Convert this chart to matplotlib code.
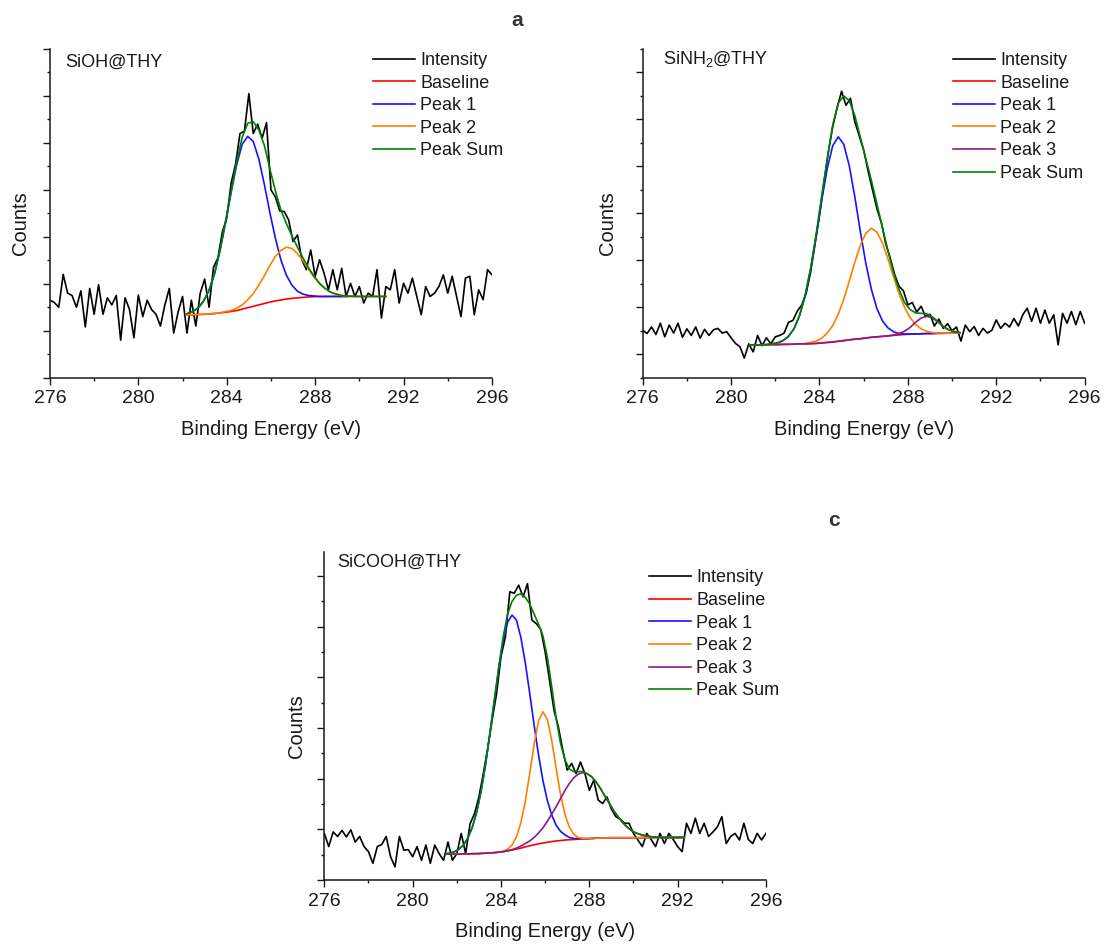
import numpy as np
import matplotlib
matplotlib.use('Agg')
import matplotlib.pyplot as plt
from matplotlib.ticker import MultipleLocator, FixedLocator

plt.rcParams['font.family'] = ['Liberation Sans', 'DejaVu Sans']

# binding energy grid of the measured spectra (0.2 eV step)
energy = np.linspace(276, 296, 101)

# ---- SiOH@THY ----
sioh_counts = [1.65, 1.60, 1.50, 2.20, 1.80, 1.75, 1.50, 1.85, 1.08, 1.90,
               1.35, 1.98, 1.35, 1.70, 1.55, 1.75, 0.80, 1.70, 1.45, 0.85,
               1.76, 1.30, 1.65, 1.45, 1.35, 1.10, 1.55, 1.90, 0.95, 1.40,
               1.73, 0.95, 1.65, 1.10, 1.80, 2.10, 1.50, 2.35, 2.55, 3.10,
               3.40, 4.15, 4.55, 5.20, 5.25, 6.05, 5.20, 5.40, 5.10, 5.43,
               4.00, 3.85, 3.55, 3.54, 3.36, 2.90, 3.04, 2.51, 2.30, 2.72,
               2.16, 2.51, 2.23, 1.87, 2.30, 1.87, 2.33, 1.73, 2.01, 1.73,
               1.94, 1.59, 1.80, 1.73, 2.30, 1.27, 1.94, 1.87, 2.30, 1.59,
               2.01, 1.80, 2.12, 1.73, 1.34, 1.94, 1.73, 1.80, 1.94, 2.19,
               1.80, 2.16, 1.73, 1.30, 2.12, 2.16, 1.34, 1.87, 1.66, 2.30,
               2.19]
sioh_fit_x = 282.2 + 0.25 * np.arange(37)
sioh_base = [1.34, 1.34, 1.345, 1.35, 1.355, 1.365, 1.38, 1.395, 1.41, 1.43,
             1.46, 1.49, 1.52, 1.55, 1.58, 1.61, 1.635, 1.655, 1.675, 1.69,
             1.70, 1.71, 1.72, 1.725, 1.728, 1.73, 1.73, 1.73, 1.73, 1.73,
             1.73, 1.73, 1.73, 1.73, 1.73, 1.73, 1.73]
sioh_peak1 = [1.36, 1.41, 1.48, 1.63, 1.86, 2.22, 2.71, 3.31, 3.95, 4.54,
              4.97, 5.14, 5.03, 4.66, 4.12, 3.52, 2.97, 2.51, 2.18, 1.97,
              1.84, 1.78, 1.75, 1.74, 1.73, 1.73, 1.73, 1.73, 1.73, 1.73]
sioh_peak2 = [1.34, 1.34, 1.345, 1.35, 1.36, 1.37, 1.38, 1.41, 1.43, 1.48,
              1.55, 1.66, 1.79, 1.97, 2.17, 2.39, 2.58, 2.71, 2.78, 2.75,
              2.64, 2.49, 2.31, 2.14, 2.00, 1.90, 1.82, 1.78, 1.75, 1.74]
sioh_sum = [1.36, 1.41, 1.48, 1.63, 1.86, 2.22, 2.74, 3.34, 3.98, 4.60,
            5.12, 5.42, 5.45, 5.28, 4.95, 4.45, 3.98, 3.57, 3.28, 3.02,
            2.78, 2.55, 2.34, 2.16, 2.01, 1.90, 1.82, 1.78, 1.75, 1.74,
            1.735, 1.73, 1.73, 1.73, 1.73, 1.73, 1.73]

# ---- SiNH2@THY ----
sinh2_counts = [1.01, 0.94, 1.08, 0.92, 1.16, 0.87, 1.12, 0.95, 1.16, 0.86,
                1.04, 0.90, 1.08, 0.84, 1.03, 0.90, 1.02, 1.05, 0.95, 0.98,
                0.85, 0.73, 0.66, 0.42, 0.72, 0.55, 0.90, 0.68, 0.85, 0.72,
                0.87, 0.90, 0.95, 1.18, 1.22, 1.42, 1.55, 1.80, 2.25, 2.85,
                3.45, 4.15, 4.80, 5.35, 5.75, 6.10, 5.80, 5.95, 5.45, 5.15,
                4.85, 4.40, 4.00, 3.60, 3.30, 2.85, 2.55, 2.20, 1.95, 1.85,
                1.55, 1.60, 1.40, 1.52, 1.30, 1.35, 1.10, 1.25, 1.05, 1.15,
                1.00, 1.08, 0.78, 1.12, 0.98, 1.09, 0.90, 1.05, 0.95, 1.01,
                1.23, 1.05, 1.16, 1.08, 1.26, 1.10, 1.34, 1.48, 1.20, 1.48,
                1.16, 1.44, 1.16, 1.34, 0.70, 1.37, 1.16, 1.41, 1.13, 1.41,
                1.16]
sinh2_fit_x = 280.85 + 0.25 * np.arange(39)
sinh2_base = [0.70, 0.70, 0.70, 0.70, 0.705, 0.705, 0.71, 0.71, 0.715, 0.72,
              0.72, 0.725, 0.73, 0.74, 0.75, 0.76, 0.775, 0.79, 0.805, 0.82,
              0.83, 0.845, 0.86, 0.87, 0.88, 0.89, 0.90, 0.91, 0.92, 0.925,
              0.93, 0.935, 0.94, 0.94, 0.945, 0.945, 0.95, 0.95, 0.95]
sinh2_peak1 = [0.70, 0.70, 0.70, 0.705, 0.72, 0.74, 0.79, 0.88, 1.04, 1.32,
               1.74, 2.31, 3.01, 3.77, 4.45, 4.94, 5.13, 4.97, 4.51, 3.85,
               3.11, 2.43, 1.88, 1.47, 1.21, 1.06, 0.98, 0.94, 0.93, 0.93,
               0.93, 0.935, 0.94, 0.94, 0.945, 0.945, 0.95, 0.95, 0.95]
sinh2_peak2 = [0.70, 0.70, 0.70, 0.70, 0.705, 0.705, 0.71, 0.71, 0.72, 0.72,
               0.73, 0.75, 0.78, 0.84, 0.95, 1.11, 1.35, 1.67, 2.06, 2.46,
               2.82, 3.08, 3.18, 3.10, 2.87, 2.53, 2.15, 1.79, 1.50, 1.28,
               1.13, 1.04, 0.99, 0.96, 0.95, 0.95, 0.95, 0.95, 0.95]
sinh2_peak3 = [0.70, 0.70, 0.70, 0.70, 0.705, 0.705, 0.71, 0.71, 0.715, 0.72,
               0.72, 0.725, 0.73, 0.74, 0.75, 0.76, 0.775, 0.79, 0.805, 0.82,
               0.83, 0.845, 0.86, 0.87, 0.88, 0.89, 0.91, 0.94, 0.99, 1.07,
               1.18, 1.27, 1.31, 1.27, 1.19, 1.09, 1.02, 0.98, 0.96]
sinh2_sum = [0.70, 0.70, 0.70, 0.705, 0.72, 0.74, 0.79, 0.88, 1.05, 1.33,
             1.75, 2.33, 3.06, 3.87, 4.65, 5.38, 5.85, 6.00, 5.90, 5.58,
             5.12, 4.66, 4.20, 3.70, 3.20, 2.70, 2.24, 1.88, 1.60, 1.45,
             1.38, 1.37, 1.36, 1.30, 1.20, 1.09, 1.02, 0.98, 0.96]

# ---- SiCOOH@THY ----
sicooh_counts = [0.92, 0.66, 0.95, 0.86, 0.98, 0.85, 0.99, 0.75, 0.86, 0.66,
                 0.56, 0.33, 0.66, 0.70, 0.86, 0.46, 0.26, 0.86, 0.59, 0.60,
                 0.46, 0.66, 0.39, 0.69, 0.33, 0.69, 0.52, 0.39, 0.75, 0.39,
                 0.52, 0.92, 0.52, 1.11, 1.31, 1.64, 2.10, 2.60, 3.16, 3.68,
                 4.41, 4.80, 5.69, 5.66, 5.82, 5.59, 5.85, 5.13, 5.06, 4.95,
                 4.50, 3.94, 3.35, 3.02, 2.56, 2.17, 2.30, 2.10, 2.33, 2.10,
                 1.77, 1.97, 1.58, 1.51, 1.64, 1.40, 1.25, 1.20, 1.12, 1.12,
                 0.92, 0.79, 0.66, 0.92, 0.80, 0.66, 0.92, 0.72, 0.92, 0.80,
                 0.66, 0.56, 1.12, 0.92, 1.22, 0.92, 1.12, 0.86, 0.95, 1.05,
                 1.25, 0.72, 0.86, 0.92, 0.79, 1.12, 0.80, 0.72, 0.92, 0.79,
                 0.92]
sicooh_fit_x = 281.5 + 0.2 * np.arange(55)
sicooh_base = [0.51, 0.51, 0.51, 0.51, 0.515, 0.515, 0.52, 0.52, 0.525, 0.53,
               0.535, 0.54, 0.55, 0.56, 0.575, 0.59, 0.61, 0.63, 0.655, 0.675,
               0.695, 0.715, 0.73, 0.745, 0.76, 0.77, 0.78, 0.79, 0.795, 0.80,
               0.805, 0.81, 0.815, 0.82, 0.825, 0.83, 0.83, 0.835, 0.835, 0.835,
               0.835, 0.835, 0.835, 0.835, 0.835, 0.84, 0.84, 0.84, 0.84, 0.84,
               0.84, 0.84, 0.84, 0.84, 0.84]
sicooh_peak1 = [0.52, 0.53, 0.56, 0.61, 0.69, 0.83, 1.04, 1.34, 1.76, 2.28,
                2.90, 3.55, 4.19, 4.72, 5.09, 5.23, 5.13, 4.79, 4.29, 3.69,
                3.06, 2.47, 1.96, 1.57, 1.28, 1.08, 0.96, 0.89, 0.84, 0.82,
                0.82, 0.82, 0.815, 0.82, 0.825, 0.83, 0.83, 0.835, 0.835, 0.835,
                0.835, 0.835, 0.835, 0.835, 0.835, 0.84, 0.84, 0.84, 0.84, 0.84,
                0.84, 0.84, 0.84, 0.84, 0.84]
sicooh_peak2 = [0.51, 0.51, 0.51, 0.51, 0.515, 0.515, 0.52, 0.52, 0.525, 0.53,
                0.535, 0.54, 0.55, 0.57, 0.61, 0.69, 0.85, 1.13, 1.55, 2.10,
                2.68, 3.14, 3.32, 3.17, 2.75, 2.20, 1.68, 1.29, 1.04, 0.90,
                0.84, 0.82, 0.82, 0.82, 0.825, 0.83, 0.83, 0.835, 0.835, 0.835,
                0.835, 0.835, 0.835, 0.835, 0.835, 0.84, 0.84, 0.84, 0.84, 0.84,
                0.84, 0.84, 0.84, 0.84, 0.84]
sicooh_peak3 = [0.51, 0.51, 0.51, 0.51, 0.515, 0.515, 0.52, 0.52, 0.525, 0.53,
                0.535, 0.54, 0.55, 0.56, 0.58, 0.60, 0.63, 0.67, 0.72, 0.77,
                0.84, 0.93, 1.03, 1.16, 1.30, 1.45, 1.61, 1.77, 1.91, 2.02,
                2.09, 2.12, 2.10, 2.04, 1.94, 1.81, 1.66, 1.52, 1.37, 1.25,
                1.14, 1.05, 0.98, 0.93, 0.90, 0.88, 0.86, 0.85, 0.85, 0.84,
                0.84, 0.84, 0.84, 0.84, 0.84]
sicooh_sum = [0.52, 0.53, 0.56, 0.61, 0.69, 0.83, 1.04, 1.34, 1.76, 2.28,
              2.90, 3.55, 4.20, 4.80, 5.25, 5.50, 5.62, 5.65, 5.58, 5.45,
              5.25, 5.05, 4.82, 4.40, 3.81, 3.19, 2.69, 2.37, 2.19, 2.14,
              2.14, 2.14, 2.10, 2.04, 1.94, 1.81, 1.66, 1.52, 1.37, 1.25,
              1.14, 1.05, 0.98, 0.93, 0.90, 0.88, 0.86, 0.85, 0.85, 0.84,
              0.84, 0.84, 0.84, 0.84, 0.84]

peak_colors = ['#1414ff', '#ff8000', '#8b1a8b']
txt_color = '#1a1a1a'


def draw_panel(fig, rect, name, counts, fit_x, base, peaks, total,
               ymax, yticks, yminor, leg_xy, name_xy, ylab_x):
    ax = fig.add_axes(rect)
    ax.plot(energy, counts, color='black', lw=1.2, label='Intensity')
    ax.plot(fit_x[:len(base)], base, color='#ff0000', lw=1.2, label='Baseline')
    for i, p in enumerate(peaks):
        ax.plot(fit_x[:len(p)], p, color=peak_colors[i], lw=1.2,
                label='Peak %d' % (i + 1))
    ax.plot(fit_x[:len(total)], total, color='#008000', lw=1.2, label='Peak Sum')

    ax.set_xlim(276, 296)
    ax.set_ylim(0, ymax)
    ax.xaxis.set_major_locator(MultipleLocator(4))
    ax.xaxis.set_minor_locator(MultipleLocator(2))
    ax.yaxis.set_major_locator(FixedLocator(yticks))
    ax.yaxis.set_minor_locator(FixedLocator(yminor))
    ax.tick_params(which='major', direction='out', length=5, width=1,
                   labelsize=14, colors=txt_color, pad=4)
    ax.tick_params(which='minor', direction='out', length=2.5, width=1,
                   colors=txt_color)
    ax.tick_params(axis='y', labelleft=False)
    for s in ['top', 'right']:
        ax.spines[s].set_visible(False)
    for s in ['left', 'bottom']:
        ax.spines[s].set_linewidth(1.1)
        ax.spines[s].set_color(txt_color)

    ax.set_xlabel('Binding Energy (eV)', fontsize=14.5, color=txt_color)
    ax.xaxis.set_label_coords(0.5, -0.128)
    ax.set_ylabel('Counts', fontsize=14.5, color=txt_color)
    ax.yaxis.set_label_coords(ylab_x, 0.47)

    ax.text(name_xy[0], name_xy[1], name, transform=ax.transAxes,
            fontsize=13, color=txt_color, ha='left', va='center')
    leg = ax.legend(loc='upper left', bbox_to_anchor=leg_xy, frameon=False,
                    fontsize=13, borderpad=0, borderaxespad=0, handlelength=2.3,
                    handletextpad=0.3, labelspacing=0.31, labelcolor=txt_color)
    for h in leg.get_lines():
        h.set_linewidth(1.2)
    return ax


fig = plt.figure(figsize=(11.05, 9.48), dpi=100)

draw_panel(fig, [0.0452, 0.6016, 0.40, 0.3467], 'SiOH@THY',
           sioh_counts, sioh_fit_x, sioh_base, [sioh_peak1, sioh_peak2],
           sioh_sum, 7, np.arange(0, 7.5, 1), np.arange(0.5, 7, 1),
           (0.7315, 0.991), (0.0355, 0.961), -0.045)

draw_panel(fig, [0.5816, 0.6016, 0.40, 0.3467], r'SiNH$\mathregular{_2}$@THY',
           sinh2_counts, sinh2_fit_x, sinh2_base,
           [sinh2_peak1, sinh2_peak2, sinh2_peak3],
           sinh2_sum, 7, np.arange(0.5, 7, 1), np.arange(0, 7.5, 1),
           (0.7027, 0.991), (0.045, 0.969), -0.057)

draw_panel(fig, [0.2935, 0.0717, 0.3997, 0.3463], 'SiCOOH@THY',
           sicooh_counts, sicooh_fit_x, sicooh_base,
           [sicooh_peak1, sicooh_peak2, sicooh_peak3],
           sicooh_sum, 6.48, np.arange(0, 6.5, 1), np.arange(0.5, 6.6, 1),
           (0.7358, 0.946), (0.030, 0.969), -0.041)

fig.text(517 / 1105, 1 - 21 / 948, 'a', fontsize=15, fontweight='bold',
         color='#333333', ha='center', va='center')
fig.text(834 / 1105, 1 - 521 / 948, 'c', fontsize=15, fontweight='bold',
         color='#333333', ha='center', va='center')

plt.savefig('out.png', dpi=100)
